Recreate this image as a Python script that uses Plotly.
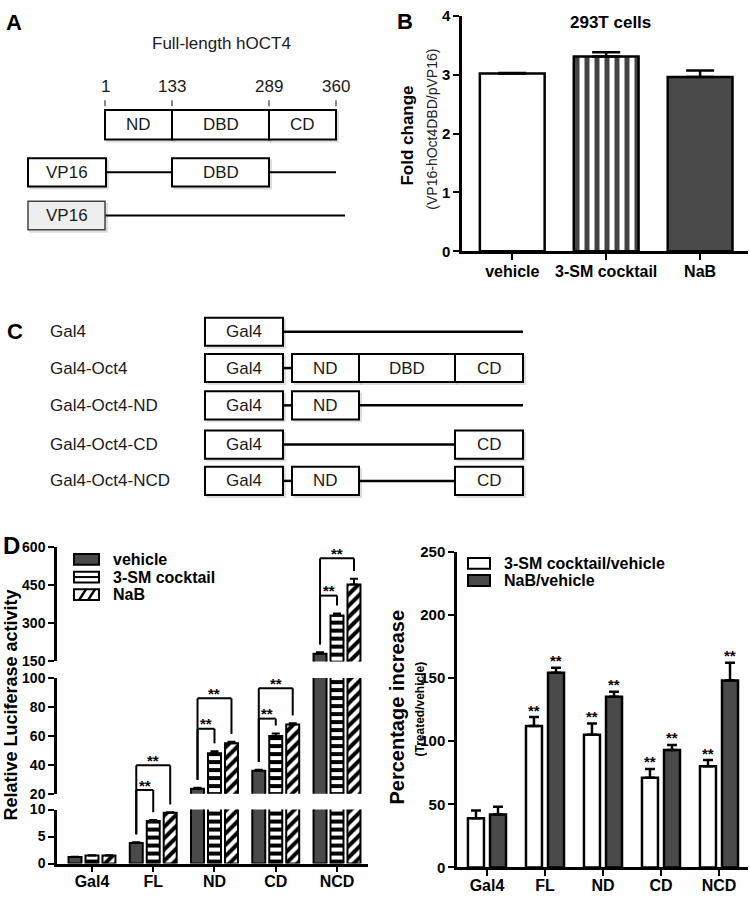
import plotly.graph_objects as go

W, H = 750, 899
FONT = "Arial, 'Liberation Sans', Helvetica, sans-serif"
DARK = "#4a4a4a"
INK = "#1a1a1a"

# ---------------- data ----------------
b_categories = ["vehicle", "3-SM cocktail", "NaB"]
b_fold_change = [3.02, 3.31, 2.96]
b_fold_err = [0.01, 0.07, 0.11]

d_categories = ["Gal4", "FL", "ND", "CD", "NCD"]
luc_vehicle = [1.2, 3.8, 23.5, 36.0, 180.0]
luc_vehicle_err = [0.05, 0.15, 0.8, 0.7, 6.0]
luc_sm = [1.5, 7.9, 48.0, 60.0, 330.0]
luc_sm_err = [0.05, 0.15, 1.5, 1.8, 8.0]
luc_nab = [1.5, 9.4, 55.0, 68.0, 452.0]
luc_nab_err = [0.05, 0.1, 1.0, 0.8, 22.0]
luc_series_names = ["vehicle", "3-SM cocktail", "NaB"]

# significance brackets: (category index, series a, series b, bracket level value)
luc_brackets = [
    (1, 0, 1, 22.7), (1, 0, 2, 39.7),
    (2, 0, 1, 65.0), (2, 0, 2, 86.0),
    (3, 0, 1, 72.0), (3, 0, 2, 93.0),
    (4, 0, 1, 408.0), (4, 0, 2, 554.0),
]

pct_sm = [39, 112, 105, 71, 80]
pct_sm_err = [6, 7, 9, 7, 5]
pct_nab = [42, 154, 135, 93, 148]
pct_nab_err = [6, 4, 4, 4, 14]
pct_sm_sig = ["", "**", "**", "**", "**"]
pct_nab_sig = ["", "**", "**", "**", "**"]
pct_series_names = ["3-SM cocktail/vehicle", "NaB/vehicle"]

# ---------------- helpers ----------------
shapes = []
annotations = []


def fx(x):
    return x / W


def fy(y):
    return 1 - y / H


def rect(x0, y0, x1, y1, fill="white", lw=2, lc="black", shadow=True):
    if shadow:
        shapes.append(dict(type="rect", xref="paper", yref="paper",
                           x0=fx(x0 + 1.5), x1=fx(x1 + 3), y0=fy(y1 + 3), y1=fy(y0 + 1.5),
                           fillcolor="rgba(0,0,0,0.13)", line=dict(width=0)))
    shapes.append(dict(type="rect", xref="paper", yref="paper",
                       x0=fx(x0), x1=fx(x1), y0=fy(y1), y1=fy(y0),
                       fillcolor=fill, line=dict(color=lc, width=lw)))


def hline(x0, x1, y, lw=2, color="black"):
    shapes.append(dict(type="line", xref="paper", yref="paper",
                       x0=fx(x0), x1=fx(x1), y0=fy(y), y1=fy(y), line=dict(color=color, width=lw)))


def seg(x0, y0, x1, y1, lw=2, color="black"):
    shapes.append(dict(type="line", xref="paper", yref="paper",
                       x0=fx(x0), x1=fx(x1), y0=fy(y0), y1=fy(y1), line=dict(color=color, width=lw)))


def text(x, y, s, size=16, bold=False, anchor="center", angle=0, color=INK):
    annotations.append(dict(x=fx(x), y=fy(y), xref="paper", yref="paper", text=s,
                            showarrow=False, xanchor=anchor, yanchor="middle", textangle=angle,
                            font=dict(family=FONT, size=size, color=color,
                                      weight="bold" if bold else "normal")))


fig = go.Figure()

# ---------------- Panel A (diagram) ----------------
text(14, 14, "A", 22, True, color="black")
text(221, 35, "Full-length hOCT4", 17)
for xpos, lab in [(105, "1"), (172, "133"), (269, "289"), (336, "360")]:
    text(xpos, 79, lab, 17)
    seg(xpos, 93, xpos, 99, 1.2, "#333")
rect(105, 103, 172, 133)
rect(172, 103, 269, 133)
rect(269, 103, 336, 133)
text(138.5, 118, "ND", 17)
text(220.5, 118, "DBD", 17)
text(302.5, 118, "CD", 17)
hline(106, 172, 166.5)
hline(269, 336, 166.5)
rect(28, 152, 106, 181)
rect(172, 152, 269, 181)
text(67, 167, "VP16", 17)
text(220.5, 167, "DBD", 17)
hline(105, 345, 210.5)
rect(28, 196, 105, 225, fill="#eeeeee", lw=1.5, lc="#444")
text(66.5, 210.5, "VP16", 17)

# ---------------- Panel C (diagram) ----------------
text(15, 329, "C", 22, True, color="black")
c_rows = [("Gal4", 329), ("Gal4-Oct4", 366), ("Gal4-Oct4-ND", 404),
          ("Gal4-Oct4-CD", 444), ("Gal4-Oct4-NCD", 481)]
for lab, yc in c_rows:
    text(48, yc, lab, 17, anchor="left")
GX0, GX1, NX1, DX1, CX1 = 205, 283, 359, 455, 523
NX0 = 292
hh = 14.3
# row 1
y = c_rows[0][1]
hline(GX1, CX1, y, 2.5)
rect(GX0, y - hh, GX1, y + hh); text((GX0 + GX1) / 2, y, "Gal4", 17)
# row 2
y = c_rows[1][1]
hline(GX1, NX0, y, 2.5)
rect(GX0, y - hh, GX1, y + hh); text((GX0 + GX1) / 2, y, "Gal4", 17)
rect(NX0, y - hh, NX1, y + hh); text((NX0 + NX1) / 2, y, "ND", 17)
rect(NX1, y - hh, DX1, y + hh); text((NX1 + DX1) / 2, y, "DBD", 17)
rect(DX1, y - hh, CX1, y + hh); text((DX1 + CX1) / 2, y, "CD", 17)
# row 3
y = c_rows[2][1]
hline(GX1, NX0, y, 2.5)
hline(NX1, CX1, y, 2.5)
rect(GX0, y - hh, GX1, y + hh); text((GX0 + GX1) / 2, y, "Gal4", 17)
rect(NX0, y - hh, NX1, y + hh); text((NX0 + NX1) / 2, y, "ND", 17)
# row 4
y = c_rows[3][1]
hline(GX1, DX1, y, 2.5)
rect(GX0, y - hh, GX1, y + hh); text((GX0 + GX1) / 2, y, "Gal4", 17)
rect(DX1, y - hh, CX1, y + hh); text((DX1 + CX1) / 2, y, "CD", 17)
# row 5
y = c_rows[4][1]
hline(GX1, NX0, y, 2.5)
hline(NX1, DX1, y, 2.5)
rect(GX0, y - hh, GX1, y + hh); text((GX0 + GX1) / 2, y, "Gal4", 17)
rect(NX0, y - hh, NX1, y + hh); text((NX0 + NX1) / 2, y, "ND", 17)
rect(DX1, y - hh, CX1, y + hh); text((DX1 + CX1) / 2, y, "CD", 17)

# ---------------- Panel B ----------------
text(405, 13, "B", 22, True, color="black")
fig.add_trace(go.Bar(
    x=[0, 1, 2], y=b_fold_change, width=0.69, xaxis="x", yaxis="y", showlegend=False,
    marker=dict(color=["white", "white", DARK], line=dict(color="black", width=2.5),
                pattern=dict(shape=["", "|", ""], fgcolor="black", bgcolor="white",
                             fgopacity=1, size=10, solidity=0.5)),
    error_y=dict(type="data", array=b_fold_err, arrayminus=[0, 0, 0], symmetric=False,
                 color="black", thickness=2.5, width=14)))
text(610, 14, "293T cells", 17, True, color="black")
text(408, 129, "Fold change", 17, True, angle=-90, color="black")
text(432, 122, "(VP16-hOct4DBD/pVP16)", 14, angle=-90, color="#222")

# ---------------- Panel D left (broken axis) ----------------
text(11, 547, "D", 24, True, color="black")
L_SEGS = [((0, 10), 871, 816), ((20, 100), 800, 682), ((150, 600), 665, 548)]
L_TICKS = [[0, 5, 10], [20, 40, 60, 80, 100], [150, 300, 450, 600]]
L_YAX = ["y2", "y3", "y4"]
L_WIDTH = 0.212
L_OFFSETS = [-0.383, -0.106, 0.171]
luc_vals = [luc_vehicle, luc_sm, luc_nab]
luc_errs = [luc_vehicle_err, luc_sm_err, luc_nab_err]
luc_markers = [
    dict(color=DARK, line=dict(color="black", width=2)),
    dict(color="white", line=dict(color="black", width=2),
         pattern=dict(shape="-", fgcolor="black", bgcolor="white", fgopacity=1,
                      size=8, solidity=0.5)),
    dict(color="white", line=dict(color="black", width=2),
         pattern=dict(shape="/", fgcolor="black", bgcolor="white", fgopacity=1,
                      size=8, solidity=0.5)),
]
for yax in L_YAX:
    for k in range(3):
        fig.add_trace(go.Bar(
            x=list(range(len(d_categories))), y=luc_vals[k], width=L_WIDTH, offset=L_OFFSETS[k],
            xaxis="x2", yaxis=yax, showlegend=False, name=luc_series_names[k],
            marker=luc_markers[k],
            error_y=dict(type="data", array=luc_errs[k], arrayminus=[0] * 5, symmetric=False,
                         color="black", thickness=2, width=4)))


def lum_px(v):
    pts = []
    for (lo, hi), pb, pt in L_SEGS:
        pts += [(lo, pb), (hi, pt)]
    for (v0, p0), (v1, p1) in zip(pts, pts[1:]):
        if v <= v1:
            return p0 + (v - v0) * (p1 - p0) / (v1 - v0)
    return pts[-1][1]


def lum_x(cat, k):
    return cat + L_OFFSETS[k] + L_WIDTH / 2


for cat, a, b, level in luc_brackets:
    xa, xb = lum_x(cat, a), lum_x(cat, b)
    ya = lum_px(luc_vals[a][cat] + luc_errs[a][cat]) - 8
    yb = lum_px(luc_vals[b][cat] + luc_errs[b][cat]) - 8
    yl = lum_px(level)
    for (x0, y0, x1, y1) in [(xa, ya, xa, yl), (xa, yl, xb, yl), (xb, yl, xb, yb)]:
        shapes.append(dict(type="line", xref="x2", yref="paper", x0=x0, x1=x1,
                           y0=fy(y0), y1=fy(y1), line=dict(color="black", width=2)))
    annotations.append(dict(x=(xa + xb) / 2, y=fy(yl - 5), xref="x2", yref="paper", text="**",
                            showarrow=False, xanchor="center", yanchor="middle",
                            font=dict(family=FONT, size=15, color="black", weight="bold")))

text(11, 710, "Relative Luciferase activity", 18, True, angle=-90, color="black")

# legend (left)
leg_y = [561, 579, 597]
for k, yc in enumerate(leg_y):
    fill = DARK if k == 0 else "white"
    rect(74, yc - 5.5, 99, yc + 5.5, fill=fill, lw=2, shadow=False)
    if k == 1:
        hline(74, 99, yc, 2)
    if k == 2:
        seg(79, yc + 5.5, 86, yc - 5.5, 2.5)
        seg(88, yc + 5.5, 95, yc - 5.5, 2.5)
    text(111, yc, luc_series_names[k], 16, True, anchor="left", color="black")

# ---------------- Panel D right ----------------
R_WIDTH = 0.276
R_OFFSETS = [-0.328, 0.052]
fig.add_trace(go.Bar(
    x=list(range(5)), y=pct_sm, width=R_WIDTH, offset=R_OFFSETS[0], xaxis="x3", yaxis="y5",
    showlegend=False, name=pct_series_names[0],
    marker=dict(color="white", line=dict(color="black", width=2.5)),
    error_y=dict(type="data", array=pct_sm_err, arrayminus=[0] * 5, symmetric=False,
                 color="black", thickness=2.5, width=5)))
fig.add_trace(go.Bar(
    x=list(range(5)), y=pct_nab, width=R_WIDTH, offset=R_OFFSETS[1], xaxis="x3", yaxis="y5",
    showlegend=False, name=pct_series_names[1],
    marker=dict(color=DARK, line=dict(color="black", width=2.5)),
    error_y=dict(type="data", array=pct_nab_err, arrayminus=[0] * 5, symmetric=False,
                 color="black", thickness=2.5, width=5)))
for k, (vals, errs, sig) in enumerate([(pct_sm, pct_sm_err, pct_sm_sig),
                                        (pct_nab, pct_nab_err, pct_nab_sig)]):
    for i in range(5):
        if sig[i]:
            annotations.append(dict(x=i + R_OFFSETS[k] + R_WIDTH / 2, y=vals[i] + errs[i],
                                    xref="x3", yref="y5", text=sig[i], showarrow=False,
                                    xanchor="center", yanchor="middle", yshift=7,
                                    font=dict(family=FONT, size=15, color="black", weight="bold")))

text(397, 712, "Percentage increase", 20, True, angle=-90, color="black")
text(420, 714, "(Treated/vehicle)", 12, True, angle=-90, color="black")
leg_r_y = [565, 582.5]
for k, yc in enumerate(leg_r_y):
    rect(468, yc - 5.5, 490, yc + 5.5, fill="white" if k == 0 else DARK, lw=2, shadow=False)
    text(502, yc, pct_series_names[k], 16, True, anchor="left", color="black")

# ---------------- axes ----------------
TICKFONT = dict(family=FONT, size=15, color="black", weight="bold")
LTICKFONT = dict(family=FONT, size=14, color="black", weight="bold")
XFONT = dict(family=FONT, size=16, color="black", weight="bold")


def yaxis(domain, rng, tickvals, anchor, lw=2.5, font=TICKFONT):
    return dict(domain=domain, range=rng, tickvals=tickvals, anchor=anchor,
                showline=True, linewidth=lw, linecolor="black", ticks="outside",
                ticklen=6, tickwidth=2, tickcolor="black", showgrid=False, zeroline=False,
                tickfont=font, fixedrange=True)


def xaxis(domain, rng, ticktext, anchor, lw=2.5, standoff=0):
    return dict(domain=domain, range=rng, tickvals=list(range(len(ticktext))),
                ticktext=ticktext, anchor=anchor, showline=True, linewidth=lw,
                linecolor="black", ticks="outside", ticklen=6, tickwidth=2,
                tickcolor="black", showgrid=False, zeroline=False, tickfont=XFONT,
                fixedrange=True, ticklabelstandoff=standoff)


layout_axes = dict(
    xaxis=xaxis([fx(462), fx(748)], [-0.535, 2.51], b_categories, "y", standoff=-2),
    yaxis=yaxis([fy(247), fy(7)], [0, 4], [0, 1, 2, 3, 4], "x"),
    xaxis2=xaxis([fx(57), fx(368)], [-0.571, 4.506], d_categories, "y2", standoff=-4),
    xaxis3=xaxis([fx(457), fx(748)], [-0.517, 4.5], d_categories, "y5", standoff=-4),
    yaxis5=yaxis([fy(875), fy(553)], [0, 250], [0, 50, 100, 150, 200, 250], "x3"),
)
for yname, ((lo, hi), pb, pt), tv in zip(["yaxis2", "yaxis3", "yaxis4"], L_SEGS, L_TICKS):
    layout_axes[yname] = yaxis([fy(pb), fy(pt)], [lo, hi], tv, "x2", lw=2.5, font=LTICKFONT)

fig.update_layout(
    width=W, height=H, margin=dict(l=0, r=0, t=0, b=0, pad=0),
    paper_bgcolor="white", plot_bgcolor="rgba(0,0,0,0)",
    showlegend=False, barmode="group",
    font=dict(family=FONT, color="black"),
    shapes=shapes, annotations=annotations,
    **layout_axes,
)

# the page's default 8px body margin would push the 750x899 figure off the window
fig.write_html("out.html", config={"displayModeBar": False},
               post_script="document.body.style.margin='0';document.body.style.overflow='hidden';")
